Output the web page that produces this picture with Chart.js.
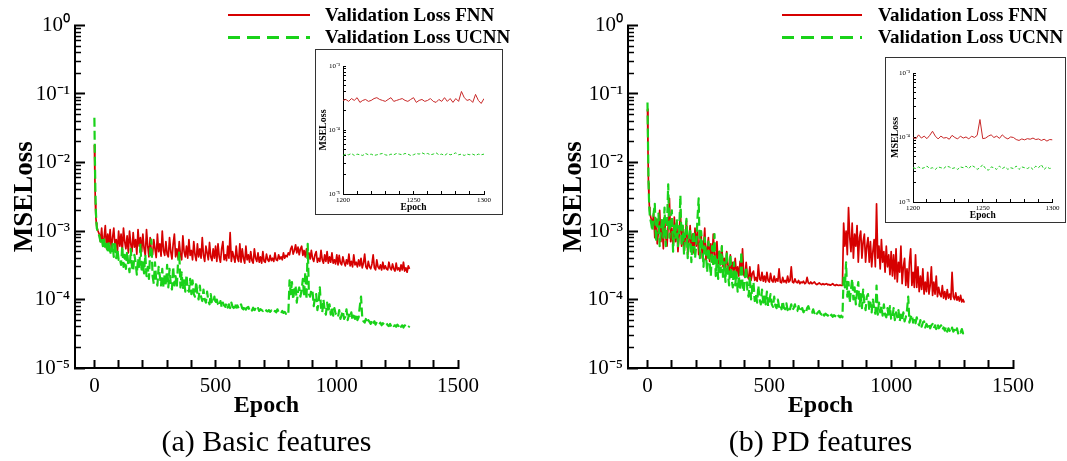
<!DOCTYPE html>
<html>
<head>
<meta charset="utf-8">
<script src="https://cdn.jsdelivr.net/npm/chart.js@4.4.1/dist/chart.umd.min.js"></script>
<style>
html,body{margin:0;padding:0;background:#fff;}
body{width:1067px;height:461px;position:relative;overflow:hidden;font-family:'Liberation Serif','Times New Roman',serif;}
.box{position:absolute;}
.inset{position:absolute;border:1px solid #333;background:#fff;box-sizing:border-box;}
.inset canvas{position:absolute;left:0;top:0;}
.leg{position:absolute;font-weight:bold;font-size:19px;line-height:22px;white-space:nowrap;color:#000;}
.sw{position:absolute;height:2px;background:#d60000;}
.swd{position:absolute;height:2.5px;background:repeating-linear-gradient(90deg,#19d219 0 12.5px,transparent 12.5px 19.5px);}
</style>
</head>
<body>
<div class="box" style="left:0;top:0;width:553px;height:461px"><canvas id="cA" width="553" height="461"></canvas></div>
<div class="box" style="left:553px;top:0;width:514px;height:461px"><canvas id="cB" width="514" height="461"></canvas></div>
<div class="inset" style="left:315px;top:49px;width:188px;height:166px"><canvas id="iA" width="186" height="164"></canvas></div>
<div class="inset" style="left:885px;top:57px;width:181px;height:166px"><canvas id="iB" width="179" height="164"></canvas></div>

<div class="sw" style="left:228px;top:14px;width:82px"></div>
<div class="swd" style="left:228px;top:36px;width:82px"></div>
<div class="leg" style="left:325px;top:4px">Validation Loss FNN</div>
<div class="leg" style="left:325px;top:26px">Validation Loss UCNN</div>

<div class="sw" style="left:782px;top:14px;width:80px"></div>
<div class="swd" style="left:782px;top:36px;width:80px"></div>
<div class="leg" style="left:878px;top:4px">Validation Loss FNN</div>
<div class="leg" style="left:878px;top:26px">Validation Loss UCNN</div>

<script>
// ---------- data ----------
const epochs = [0,2,4,6,8,10,15,
  20,25,30,35,40,45,50,55,60,65,70,75,80,85,90,95,100,
  105,110,115,120,125,130,135,140,145,150,155,160,165,170,175,180,185,190,195,200,
  205,210,215,220,225,230,235,240,245,250,255,260,265,270,275,280,285,290,295,300,
  305,310,315,320,325,330,335,340,345,350,355,360,365,370,375,380,385,390,395,400,
  405,410,415,420,425,430,435,440,445,450,455,460,465,470,475,480,485,490,495,500,
  505,510,515,520,525,530,535,540,545,550,555,560,565,570,575,580,585,590,595,600,
  605,610,615,620,625,630,635,640,645,650,655,660,665,670,675,680,685,690,695,700,
  705,710,715,720,725,730,735,740,745,750,755,760,765,770,775,780,785,790,795,800,
  805,810,815,820,825,830,835,840,845,850,855,860,865,870,875,880,885,890,895,900,
  905,910,915,920,925,930,935,940,945,950,955,960,965,970,975,980,985,990,995,1000,
  1005,1010,1015,1020,1025,1030,1035,1040,1045,1050,1055,1060,1065,1070,1075,1080,1085,1090,1095,1100,
  1105,1110,1115,1120,1125,1130,1135,1140,1145,1150,1155,1160,1165,1170,1175,1180,1185,1190,1195,1200,
  1205,1210,1215,1220,1225,1230,1235,1240,1245,1250,1255,1260,1265,1270,1275,1280,1285,1290,1295,1300];

const fnnBasic = [1.8e-2,6e-3,2.5e-3,1.6e-3,1.3e-3,1.15e-3,1e-3,
  9e-4,7e-4,1.1e-3,6e-4,8e-4,1.2e-3,5.5e-4,9e-4,6.5e-4,1.05e-3,5.2e-4,8e-4,1.1e-3,6e-4,7.5e-4,5e-4,1e-3,
  6e-4,9e-4,5e-4,1.1e-3,7e-4,5.5e-4,8.5e-4,4.8e-4,1e-3,6.5e-4,5e-4,9.5e-4,5.8e-4,7.5e-4,4.6e-4,1.05e-3,6e-4,8e-4,5e-4,9e-4,
  5.5e-4,4.4e-4,1.05e-3,6e-4,4.2e-4,8e-4,5e-4,4.5e-4,7.5e-4,5.5e-4,4.1e-4,9e-4,5e-4,6.5e-4,4.3e-4,1e-3,5.2e-4,4.4e-4,7e-4,4.6e-4,
  4.2e-4,8e-4,5e-4,3.9e-4,6.5e-4,9e-4,4.2e-4,5.5e-4,4e-4,7e-4,4.5e-4,3.8e-4,8.5e-4,5e-4,4.2e-4,6e-4,4e-4,7.5e-4,4.4e-4,5.2e-4,
  3.8e-4,7e-4,4.5e-4,3.7e-4,6.5e-4,4.2e-4,5.5e-4,4e-4,8e-4,4.4e-4,3.6e-4,6e-4,4.8e-4,3.8e-4,6.8e-4,4.2e-4,3.7e-4,5.5e-4,4e-4,6e-4,
  3.6e-4,6.5e-4,4.2e-4,3.5e-4,5.5e-4,7e-4,3.8e-4,4.5e-4,3.7e-4,6e-4,4e-4,9.5e-4,3.6e-4,5e-4,4.2e-4,3.5e-4,6e-4,4e-4,3.6e-4,6.5e-4,
  3.5e-4,5.5e-4,4e-4,3.4e-4,6e-4,3.8e-4,4.5e-4,3.5e-4,5e-4,3.7e-4,3.4e-4,5.5e-4,4e-4,3.6e-4,4.8e-4,3.5e-4,4.2e-4,3.4e-4,5e-4,3.6e-4,
  3.5e-4,4.6e-4,3.8e-4,3.6e-4,4.4e-4,3.7e-4,4e-4,3.6e-4,4.8e-4,3.8e-4,3.7e-4,4.5e-4,3.9e-4,4.2e-4,3.8e-4,4.8e-4,4e-4,4.4e-4,4.2e-4,4.8e-4,
  4.5e-4,5.5e-4,6e-4,4.6e-4,5.2e-4,6.3e-4,4.8e-4,5.8e-4,4.5e-4,5.5e-4,6e-4,4.4e-4,5.2e-4,4.2e-4,5.5e-4,4e-4,4.8e-4,3.9e-4,5.2e-4,4e-4,
  3.6e-4,4.5e-4,5e-4,3.5e-4,4e-4,3.6e-4,5.2e-4,3.8e-4,3.4e-4,4.5e-4,3.6e-4,5e-4,3.4e-4,4.2e-4,3.5e-4,4.8e-4,3.4e-4,3.8e-4,3.3e-4,4.5e-4,
  3.2e-4,4.4e-4,3.4e-4,3.2e-4,4.2e-4,3.5e-4,3.1e-4,3.8e-4,3.3e-4,4.6e-4,3.1e-4,3.6e-4,3e-4,4.5e-4,3.2e-4,3.5e-4,3e-4,3.8e-4,3.1e-4,4e-4,
  2.9e-4,3.4e-4,4.6e-4,3e-4,2.8e-4,3.6e-4,3e-4,2.8e-4,3.3e-4,4.5e-4,2.9e-4,2.7e-4,3.8e-4,3e-4,2.8e-4,3.2e-4,2.7e-4,3.5e-4,2.8e-4,3.1e-4,
  2.8e-4,2.7e-4,3.5e-4,2.9e-4,2.7e-4,3.3e-4,2.8e-4,2.6e-4,3.4e-4,2.7e-4,2.9e-4,2.6e-4,3.2e-4,2.7e-4,3.5e-4,2.6e-4,2.9e-4,2.5e-4,3.1e-4,2.8e-4];

const ucnnBasic = [4.5e-2,1.2e-2,4e-3,2e-3,1.4e-3,1.1e-3,9.5e-4,
  8.5e-4,7e-4,8e-4,6e-4,7.5e-4,5.5e-4,6.5e-4,4.8e-4,7e-4,5e-4,4.5e-4,6.5e-4,4.2e-4,7e-4,4e-4,5.5e-4,3.8e-4,
  4e-4,3.2e-4,6e-4,3e-4,4.5e-4,2.8e-4,5e-4,3.2e-4,2.5e-4,5.5e-4,3e-4,2.6e-4,4.5e-4,3.5e-4,2.3e-4,4e-4,2.8e-4,6.5e-4,2.5e-4,3.5e-4,
  2.4e-4,4.5e-4,2.2e-4,3e-4,2e-4,5e-4,7.5e-4,2.2e-4,1.7e-4,3.5e-4,1.9e-4,1.6e-4,3e-4,2.2e-4,1.6e-4,2.8e-4,1.5e-4,2.4e-4,1.6e-4,3.2e-4,
  1.5e-4,2.8e-4,1.7e-4,1.4e-4,3e-4,1.6e-4,2.2e-4,1.5e-4,3.5e-4,5e-4,1.5e-4,2.5e-4,1.4e-4,1.9e-4,1.3e-4,2.3e-4,1.4e-4,1.3e-4,2e-4,1.2e-4,
  1.9e-4,1.2e-4,1.1e-4,1.8e-4,1.2e-4,1e-4,1.6e-4,1.1e-4,9.5e-5,1.4e-4,1e-4,9e-5,1.3e-4,9.5e-5,8.5e-5,1.2e-4,9e-5,8.8e-5,1.1e-4,8.5e-5,
  1e-4,8.5e-5,8e-5,9.5e-5,7.8e-5,9e-5,8.2e-5,7.8e-5,8.8e-5,7.6e-5,8.5e-5,7.5e-5,9e-5,7.8e-5,7.5e-5,8.8e-5,7.6e-5,8.2e-5,7.4e-5,8e-5,
  8.5e-5,7.4e-5,7.2e-5,8.2e-5,7.1e-5,7.6e-5,7.8e-5,7e-5,7.4e-5,6.9e-5,7.6e-5,7e-5,7.3e-5,6.9e-5,7.5e-5,6.8e-5,7.2e-5,7e-5,6.8e-5,7.3e-5,
  7.3e-5,6.8e-5,6.7e-5,7e-5,6.6e-5,6.9e-5,6.5e-5,6.4e-5,6.8e-5,6.5e-5,7.2e-5,6.5e-5,6.6e-5,6.3e-5,6.8e-5,6.4e-5,6.6e-5,6.2e-5,6.5e-5,6.2e-5,
  1.9e-4,1.2e-4,1.8e-4,1e-4,1.4e-4,1.6e-4,9e-5,1.3e-4,1.5e-4,1.1e-4,1.4e-4,2e-4,1.1e-4,2.5e-4,1e-4,6.5e-4,1.2e-4,1.1e-4,1.4e-4,1.3e-4,
  8e-5,1.1e-4,1.2e-4,7e-5,9e-5,1.5e-4,7.5e-5,6.5e-5,1e-4,7e-5,6e-5,9e-5,6.5e-5,8.5e-5,6e-5,7.8e-5,5.8e-5,7.5e-5,6.2e-5,6e-5,
  5.5e-5,7e-5,5.2e-5,6e-5,6.8e-5,5.2e-5,5.6e-5,7.2e-5,5e-5,6e-5,5.4e-5,6.5e-5,5e-5,5.8e-5,5.2e-5,6.2e-5,5e-5,5.5e-5,8e-5,1.1e-4,
  5.5e-5,4.8e-5,4.6e-5,5.2e-5,4.5e-5,5e-5,4.7e-5,4.4e-5,4.9e-5,4.4e-5,4.8e-5,4.3e-5,4.7e-5,4.5e-5,4.3e-5,4.6e-5,4.2e-5,4.5e-5,4.3e-5,4.2e-5,
  4.5e-5,4.2e-5,4.1e-5,4.4e-5,4e-5,4.3e-5,4.1e-5,4.2e-5,4e-5,4.3e-5,4.1e-5,4.4e-5,4e-5,4.2e-5,3.9e-5,4.2e-5,4e-5,4.1e-5,3.9e-5,4.1e-5];

const fnnPD = [6e-2,1.5e-2,5e-3,3e-3,2.2e-3,1.8e-3,1.5e-3,
  1.2e-3,1.8e-3,8e-4,1.5e-3,6.5e-4,1e-3,2e-3,7e-4,1.3e-3,5.5e-4,1.6e-3,8e-4,6e-4,1.2e-3,3e-3,7e-4,1.1e-3,
  5.5e-4,1.6e-3,7e-4,1.3e-3,5e-4,9e-4,2e-3,6e-4,1.1e-3,5e-4,8e-4,1.4e-3,4.5e-4,7e-4,1.2e-3,5e-4,9e-4,4.8e-4,1.1e-3,6e-4,
  1e-3,4.5e-4,7e-4,9e-4,4e-4,6e-4,1.1e-3,3.8e-4,5.5e-4,8e-4,3.6e-4,6.5e-4,3.5e-4,9e-4,4.2e-4,3.4e-4,7e-4,3.3e-4,5e-4,3.2e-4,
  6e-4,3e-4,4e-4,2.6e-4,5e-4,3.2e-4,2.5e-4,4.5e-4,2.4e-4,3.5e-4,2.6e-4,4e-4,2.3e-4,3e-4,2.2e-4,3.6e-4,2.4e-4,5.5e-4,2.3e-4,2.1e-4,
  3.5e-4,2.2e-4,2e-4,3e-4,1.9e-4,2.4e-4,2.6e-4,1.9e-4,2.1e-4,1.85e-4,3.2e-4,2e-4,1.9e-4,2.5e-4,1.85e-4,2.2e-4,1.8e-4,2.5e-4,1.9e-4,1.8e-4,
  2.4e-4,1.9e-4,1.8e-4,2.2e-4,1.8e-4,2e-4,1.85e-4,2.8e-4,1.8e-4,1.75e-4,2.1e-4,1.8e-4,1.9e-4,1.75e-4,2.2e-4,1.8e-4,1.9e-4,3e-4,1.8e-4,1.75e-4,
  2e-4,1.8e-4,1.75e-4,1.9e-4,1.7e-4,1.8e-4,1.75e-4,1.85e-4,1.7e-4,1.75e-4,2.1e-4,1.75e-4,1.7e-4,1.8e-4,1.7e-4,1.75e-4,1.8e-4,1.7e-4,1.65e-4,1.7e-4,
  1.75e-4,1.68e-4,1.65e-4,1.7e-4,1.65e-4,1.68e-4,1.7e-4,1.64e-4,1.66e-4,1.62e-4,1.65e-4,1.7e-4,1.63e-4,1.6e-4,1.65e-4,1.62e-4,1.6e-4,1.63e-4,1.6e-4,1.6e-4,
  1.3e-3,6e-4,1e-3,4.5e-4,2.2e-3,8e-4,5e-4,1.3e-3,4e-4,9e-4,6e-4,1.2e-3,3.5e-4,8e-4,1e-3,4e-4,7e-4,9e-4,3.5e-4,6e-4,
  8e-4,3.5e-4,7e-4,3e-4,5e-4,7.5e-4,3e-4,2.5e-3,4e-4,6e-4,2.8e-4,7.5e-4,3.5e-4,5e-4,2.5e-4,6e-4,3e-4,4.5e-4,2.3e-4,5e-4,
  2.2e-4,4.5e-4,2e-4,5.5e-4,1.8e-4,3.5e-4,2.5e-4,6e-4,1.7e-4,3e-4,4e-4,1.6e-4,2.8e-4,1.5e-4,3.5e-4,5.5e-4,1.6e-4,2.5e-4,1.5e-4,4.5e-4,
  1.5e-4,3e-4,1.3e-4,2.2e-4,1.4e-4,2.8e-4,1.2e-4,1.8e-4,1.3e-4,2.5e-4,1.2e-4,1.6e-4,3e-4,1.15e-4,1.8e-4,1.2e-4,2.2e-4,1.1e-4,1.5e-4,1.2e-4,
  1.1e-4,1.6e-4,1.05e-4,1.3e-4,1e-4,1.4e-4,1.05e-4,1.2e-4,1e-4,2.5e-4,1.1e-4,1e-4,1.25e-4,9.8e-5,1.1e-4,9.5e-5,1.15e-4,9.2e-5,1e-4,9e-5];

const ucnnPD = [7.5e-2,2e-2,6e-3,3e-3,2e-3,1.6e-3,1.3e-3,
  1e-3,1.8e-3,2.5e-3,7e-4,1.2e-3,1.8e-3,6e-4,1e-3,1.5e-3,8e-4,2.2e-3,6e-4,1.2e-3,4.8e-3,8e-4,1.5e-3,2e-3,
  5e-4,1.2e-3,8e-4,1.5e-3,6e-4,1e-3,3.3e-3,6e-4,1.2e-3,4.5e-4,9e-4,1.5e-3,4e-4,8e-4,1.1e-3,3.5e-4,7e-4,1e-3,4e-4,6e-4,
  1.5e-3,3e-3,4e-4,1e-3,6e-4,3e-4,8e-4,4.5e-4,2.5e-4,7e-4,3.5e-4,2.2e-4,6e-4,3e-4,9e-4,2.2e-4,4e-4,2e-4,5e-4,2.5e-4,
  6e-4,2e-4,3.5e-4,1.8e-4,5e-4,2.5e-4,1.6e-4,4.5e-4,2e-4,1.5e-4,3.5e-4,1.6e-4,2.5e-4,1.3e-4,2.2e-4,1.4e-4,5e-4,1.6e-4,1.3e-4,2e-4,
  3e-4,1.3e-4,1.1e-4,2.2e-4,1e-4,1.5e-4,1.8e-4,9.5e-5,1.2e-4,9e-5,1.6e-4,1e-4,8.5e-5,1.4e-4,9e-5,1.1e-4,8.5e-5,1.3e-4,8e-5,9.5e-5,
  1.2e-4,8.5e-5,7.8e-5,1.1e-4,8e-5,7.5e-5,1e-4,7.8e-5,8.5e-5,7.2e-5,9.5e-5,7.5e-5,7.2e-5,8.8e-5,7e-5,8e-5,7.2e-5,8.5e-5,7e-5,7.5e-5,
  8.5e-5,7e-5,6.8e-5,8e-5,6.6e-5,7.2e-5,7.5e-5,6.5e-5,6.8e-5,6.4e-5,7.5e-5,8e-5,7e-5,6.5e-5,6.4e-5,7.2e-5,6.3e-5,6.8e-5,6.2e-5,6.5e-5,
  6.8e-5,6.2e-5,6e-5,6.5e-5,5.8e-5,6.2e-5,6e-5,5.8e-5,6.2e-5,5.7e-5,6e-5,5.6e-5,5.9e-5,5.7e-5,6.1e-5,5.6e-5,5.8e-5,5.5e-5,5.8e-5,5.5e-5,
  2.2e-4,1.5e-4,3.5e-4,1.1e-4,1.8e-4,9e-5,1.4e-4,2e-4,1e-4,1.5e-4,8.5e-5,1.3e-4,1.8e-4,8e-5,1.2e-4,7.5e-5,1.4e-4,9e-5,7e-5,1.1e-4,
  1.2e-4,7e-5,9e-5,6.5e-5,1e-4,7.5e-5,6.2e-5,1.6e-4,6e-5,9e-5,6.5e-5,8e-5,5.8e-5,8.5e-5,6e-5,5.5e-5,7.5e-5,5.5e-5,8e-5,5.2e-5,
  5.2e-5,7.5e-5,5e-5,6.5e-5,5.5e-5,7e-5,4.8e-5,6e-5,5e-5,6.5e-5,4.8e-5,5.5e-5,7e-5,1.1e-4,4.6e-5,5.5e-5,6e-5,4.6e-5,5.2e-5,4.5e-5,
  5.5e-5,4.5e-5,4.2e-5,5e-5,4e-5,4.6e-5,4.8e-5,3.9e-5,4.4e-5,4e-5,4.5e-5,3.8e-5,4.2e-5,4.4e-5,3.8e-5,4.2e-5,3.7e-5,4.4e-5,3.8e-5,4e-5,
  4.2e-5,3.6e-5,3.9e-5,3.5e-5,4e-5,3.4e-5,3.8e-5,3.5e-5,3.3e-5,3.9e-5,3.4e-5,3.6e-5,3.3e-5,3.8e-5,3.2e-5,3.5e-5,3.3e-5,3.7e-5,3.2e-5,3.3e-5];

const insetEpochs = [1200,1202,1204,1206,1208,1210,1212,1214,1216,1218,
  1220,1222,1224,1226,1228,1230,1232,1234,1236,1238,
  1240,1242,1244,1246,1248,1250,1252,1254,1256,1258,
  1260,1262,1264,1266,1268,1270,1272,1274,1276,1278,
  1280,1282,1284,1286,1288,1290,1292,1294,1296,1298,1300];

const fnnBasicZoom = [2.9e-4,3.0e-4,2.8e-4,3.1e-4,2.9e-4,3.2e-4,2.7e-4,2.9e-4,3.0e-4,2.8e-4,
  2.9e-4,3.1e-4,3.2e-4,3.0e-4,2.9e-4,2.8e-4,3.0e-4,3.2e-4,2.8e-4,2.9e-4,
  3.0e-4,3.1e-4,2.9e-4,2.8e-4,3.0e-4,3.2e-4,2.7e-4,2.9e-4,3.0e-4,2.8e-4,
  2.9e-4,3.1e-4,2.8e-4,2.7e-4,3.0e-4,2.8e-4,3.2e-4,2.8e-4,3.1e-4,2.7e-4,
  3.1e-4,2.8e-4,4.0e-4,3.2e-4,2.9e-4,3.0e-4,2.7e-4,3.6e-4,2.9e-4,2.6e-4,3.1e-4];
const ucnnBasicZoom = [4.0e-5,4.2e-5,4.1e-5,4.3e-5,4.0e-5,4.2e-5,4.1e-5,4.0e-5,4.3e-5,4.1e-5,
  4.2e-5,4.0e-5,4.1e-5,4.2e-5,4.3e-5,4.1e-5,4.0e-5,4.2e-5,4.1e-5,4.3e-5,
  4.2e-5,4.1e-5,4.3e-5,4.2e-5,4.0e-5,4.1e-5,4.3e-5,4.2e-5,4.4e-5,4.2e-5,
  4.3e-5,4.1e-5,4.2e-5,4.4e-5,4.1e-5,4.2e-5,4.0e-5,4.3e-5,4.1e-5,4.2e-5,
  4.4e-5,4.1e-5,4.2e-5,4.0e-5,4.2e-5,4.1e-5,4.2e-5,4.0e-5,4.2e-5,4.1e-5,4.2e-5];
const fnnPDZoom = [1.0e-4,9.5e-5,1.1e-4,9.8e-5,1.05e-4,9.6e-5,1.08e-4,1.25e-4,1.05e-4,9.5e-5,
  1.05e-4,9.8e-5,1.0e-4,9.4e-5,1.08e-4,1.0e-4,9.5e-5,1.05e-4,9.8e-5,1.02e-4,
  9.5e-5,1.05e-4,1.0e-4,1.08e-4,1.9e-4,9.6e-5,9.8e-5,1.05e-4,1.1e-4,1.0e-4,
  1.05e-4,9.7e-5,1.1e-4,1.0e-4,9.5e-5,1.02e-4,1.0e-4,9.3e-5,9.0e-5,9.5e-5,
  9.2e-5,9.6e-5,9.4e-5,9.8e-5,9.3e-5,9.5e-5,9.0e-5,9.4e-5,8.8e-5,9.3e-5,9.2e-5];
const ucnnPDZoom = [3.4e-5,3.3e-5,3.5e-5,3.3e-5,3.4e-5,3.6e-5,3.3e-5,3.4e-5,3.2e-5,3.5e-5,
  3.4e-5,3.3e-5,3.6e-5,3.5e-5,3.3e-5,3.4e-5,3.2e-5,3.5e-5,3.4e-5,3.6e-5,
  3.3e-5,3.7e-5,3.5e-5,3.2e-5,3.4e-5,3.8e-5,3.3e-5,3.1e-5,3.5e-5,3.4e-5,
  3.2e-5,3.6e-5,3.3e-5,3.5e-5,3.2e-5,3.4e-5,3.3e-5,3.6e-5,3.2e-5,3.5e-5,
  3.4e-5,3.3e-5,3.5e-5,3.2e-5,3.6e-5,3.4e-5,3.8e-5,3.2e-5,3.5e-5,3.3e-5,3.4e-5];

// ---------- ticks ----------
const mainXTicks = [0,100,200,300,400,500,600,700,800,900,1000,1100,1200,1300,1400,1500];
const mainXLabelValues = [0,500,1000,1500];
const mainXLabels = ['0','500','1000','1500'];
const mainYDecades = [1e-5,1e-4,1e-3,1e-2,1e-1,1];
const mainYLabels = ['10\u207B\u2075','10\u207B\u2074','10\u207B\u00B3','10\u207B\u00B2','10\u207B\u00B9','10\u2070'];
const minorMantissas = [2,3,4,5,6,7,8,9];
const insetXTicks = [1200,1210,1220,1230,1240,1250,1260,1270,1280,1290,1300];
const insetXLabelValues = [1200,1250,1300];
const insetXLabels = ['1200','1250','1300'];
const insetYDecades = [1e-5,1e-4,1e-3];
const insetYLabels = ['10\u207B\u2075','10\u207B\u2074','10\u207B\u00B3'];

const captions = ['(a) Basic features','(b) PD features'];
const seriesNames = ['Validation Loss FNN','Validation Loss UCNN'];

// ---------- helpers ----------
const SERIF = "'Liberation Serif','Times New Roman',serif";
const RED = '#d60000', GREEN = '#19d219';
Chart.defaults.font.family = SERIF;
Chart.defaults.color = '#000';

function toXY(xs, ys) { return xs.map((x, i) => ({x: x, y: ys[i]})); }
function near(a, b) { return Math.abs(a - b) <= Math.abs(b) * 1e-6 + 1e-12; }
function labelFor(values, labels) {
  return function (v) {
    for (let i = 0; i < values.length; i++) if (near(v, values[i])) return labels[i];
    return '';
  };
}
function minorTicks(decades) {
  const out = [];
  for (let d = 0; d < decades.length - 1; d++)
    for (const m of minorMantissas) out.push(m * decades[d]);
  return out;
}
function setTicks(arr) { return s => { s.ticks = arr.map(v => ({value: v})); }; }

function mainConfig(p) {
  return {
    type: 'line',
    data: { datasets: [
      { label: seriesNames[0], data: toXY(epochs, p.fnn), borderColor: RED, borderWidth: 1.7,
        pointRadius: 0, tension: 0, borderJoinStyle: 'round', order: 1 },
      { label: seriesNames[1], data: toXY(epochs, p.ucnn), borderColor: GREEN, borderWidth: 2.2,
        borderDash: [9, 4], pointRadius: 0, tension: 0, borderJoinStyle: 'round', order: 0 }
    ]},
    options: {
      responsive: false, animation: false, devicePixelRatio: 1, events: [],
      layout: { padding: { left: 0, top: 18, right: p.padRight, bottom: 0 } },
      plugins: {
        legend: { display: false }, tooltip: { enabled: false },
        title: { display: true, text: p.caption, position: 'bottom', fullSize: false, color: '#000',
          font: { family: SERIF, size: 30, weight: 'normal', lineHeight: 1 }, padding: { top: 2, bottom: 3 } }
      },
      scales: {
        x: { type: 'linear', min: -80, max: 1500,
          afterFit: s => { s.height = 58; },
          afterBuildTicks: setTicks(mainXTicks),
          ticks: { autoSkip: false, maxRotation: 0, padding: 16, color: '#000',
            font: { size: 21, lineHeight: 1 }, callback: labelFor(mainXLabelValues, mainXLabels) },
          grid: { drawOnChartArea: false, tickLength: -8, tickWidth: 2, tickColor: '#000' },
          border: { display: true, color: '#000', width: 2 },
          title: { display: true, text: 'Epoch', color: '#000', font: { size: 24, weight: 'bold', lineHeight: 1 },
            padding: { top: 0, bottom: 8 } } },
        y: { type: 'logarithmic', position: 'left', min: 1e-5, max: 1,
          afterFit: s => { s.width = 75; },
          afterBuildTicks: setTicks(mainYDecades),
          ticks: { autoSkip: false, padding: 15, color: '#000', font: { size: 21, lineHeight: 1 },
            callback: labelFor(mainYDecades, mainYLabels) },
          grid: { drawOnChartArea: false, tickLength: -10, tickWidth: 2, tickColor: '#000' },
          border: { display: true, color: '#000', width: 2 },
          title: { display: true, text: 'MSELoss', color: '#000', font: { size: 27, weight: 'bold', lineHeight: 1 },
            padding: { top: p.yTitlePad, bottom: 0 } } },
        ym: { type: 'logarithmic', axis: 'y', position: { x: -80 }, min: 1e-5, max: 1,
          afterBuildTicks: setTicks(minorTicks(mainYDecades)),
          ticks: { display: false },
          grid: { drawOnChartArea: false, tickLength: -6, tickWidth: 1.5, tickColor: '#000' },
          border: { display: false } }
      }
    }
  };
}

function insetConfig(p) {
  return {
    type: 'line',
    data: { datasets: [
      { label: seriesNames[0], data: toXY(insetEpochs, p.fnn), borderColor: '#c82828', borderWidth: 1,
        pointRadius: 0, tension: 0, order: 1 },
      { label: seriesNames[1], data: toXY(insetEpochs, p.ucnn), borderColor: '#22cc22', borderWidth: 1,
        borderDash: [3, 2], pointRadius: 0, tension: 0, order: 0 }
    ]},
    options: {
      responsive: false, animation: false, devicePixelRatio: 1, events: [],
      layout: { padding: { left: 0, top: p.padTop, right: p.padRight, bottom: 0 } },
      plugins: { legend: { display: false }, tooltip: { enabled: false } },
      scales: {
        x: { type: 'linear', min: 1200, max: 1300,
          afterFit: s => { s.height = 20; },
          afterBuildTicks: setTicks(insetXTicks),
          ticks: { autoSkip: false, maxRotation: 0, padding: 5.5, color: '#000',
            font: { size: 7, lineHeight: 1 }, callback: labelFor(insetXLabelValues, insetXLabels) },
          grid: { drawOnChartArea: false, tickLength: -3, tickWidth: 1, tickColor: '#000' },
          border: { display: true, color: '#000', width: 1 },
          title: { display: true, text: 'Epoch', color: '#000', font: { size: 9.5, weight: 'bold', lineHeight: 1 },
            padding: { top: 0, bottom: 1.3 } } },
        y: { type: 'logarithmic', position: 'left', min: 1e-5, max: 1e-3,
          afterFit: s => { s.width = 27; },
          afterBuildTicks: setTicks(insetYDecades.concat(minorTicks(insetYDecades))),
          ticks: { autoSkip: false, padding: 6, color: '#000', font: { size: 7, lineHeight: 1 },
            callback: labelFor(insetYDecades, insetYLabels) },
          grid: { drawOnChartArea: false, tickLength: -3, tickWidth: 1, tickColor: '#000' },
          border: { display: true, color: '#000', width: 1 },
          title: { display: true, text: 'MSELoss', color: '#000', font: { size: 10, weight: 'bold', lineHeight: 1 },
            padding: { top: p.yTitlePad, bottom: 0 } } }
      }
    }
  };
}

new Chart(document.getElementById('cA'), mainConfig({ fnn: fnnBasic, ucnn: ucnnBasic, caption: captions[0], padRight: 95, yTitlePad: 12 }));
new Chart(document.getElementById('cB'), mainConfig({ fnn: fnnPD, ucnn: ucnnPD, caption: captions[1], padRight: 54, yTitlePad: 8 }));
new Chart(document.getElementById('iA'), insetConfig({ fnn: fnnBasicZoom, ucnn: ucnnBasicZoom, padTop: 16, padRight: 18, yTitlePad: 2.5 }));
new Chart(document.getElementById('iB'), insetConfig({ fnn: fnnPDZoom, ucnn: ucnnPDZoom, padTop: 15, padRight: 10, yTitlePad: 4 }));
</script>
</body>
</html>
